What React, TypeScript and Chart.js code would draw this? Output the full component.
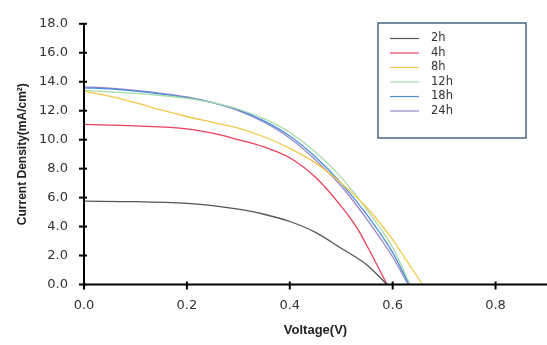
import React, { useEffect, useRef } from "react";
import { Chart, registerables } from "chart.js";

Chart.register(...registerables);

const seriesLabels = ["2h", "4h", "8h", "12h", "18h", "24h"];
const seriesColors = ["#555555", "#e8405a", "#f2c84b", "#a8dca8", "#4a8fdc", "#9a86c8"];

const v2h = [0, 0.1, 0.2, 0.25, 0.3, 0.35, 0.4, 0.45, 0.5, 0.55, 0.589];
const j2h = [5.75, 5.72, 5.6, 5.45, 5.2, 4.85, 4.35, 3.6, 2.5, 1.35, 0];

const v4h = [0, 0.1, 0.2, 0.25, 0.3, 0.35, 0.4, 0.45, 0.5, 0.53, 0.56, 0.589];
const j4h = [11.05, 10.95, 10.75, 10.45, 10.0, 9.5, 8.75, 7.4, 5.4, 3.95, 2.0, 0];

const v8h = [0, 0.05, 0.1, 0.15, 0.2, 0.25, 0.3, 0.35, 0.4, 0.45, 0.5, 0.55, 0.6, 0.63, 0.658];
const j8h = [13.35, 13.0, 12.55, 12.05, 11.6, 11.2, 10.8, 10.2, 9.4, 8.4, 7.0, 5.3, 3.1, 1.5, 0];

const v12h = [0, 0.05, 0.1, 0.15, 0.2, 0.25, 0.3, 0.35, 0.4, 0.45, 0.5, 0.55, 0.6, 0.634];
const j12h = [13.4, 13.3, 13.2, 13.05, 12.85, 12.55, 12.1, 11.45, 10.5, 9.15, 7.4, 5.15, 2.55, 0];

const v18h = [0, 0.05, 0.1, 0.15, 0.2, 0.25, 0.3, 0.35, 0.4, 0.45, 0.5, 0.55, 0.6, 0.632];
const j18h = [13.58, 13.5, 13.35, 13.15, 12.9, 12.55, 12.05, 11.3, 10.25, 8.8, 7.0, 4.8, 2.2, 0];

const v24h = [0, 0.05, 0.1, 0.15, 0.2, 0.25, 0.3, 0.35, 0.4, 0.45, 0.5, 0.55, 0.6, 0.63];
const j24h = [13.65, 13.55, 13.4, 13.2, 12.95, 12.55, 12.0, 11.2, 10.1, 8.6, 6.8, 4.5, 1.9, 0];

const voltages = [v2h, v4h, v8h, v12h, v18h, v24h];
const currents = [j2h, j4h, j8h, j12h, j18h, j24h];

const xTicks = [0, 0.2, 0.4, 0.6, 0.8];
const yTicks = [0, 2, 4, 6, 8, 10, 12, 14, 16, 18];

const xTitle = "Voltage(V)";
const yTitle = "Current Density(mA/cm²)";

const axesPlugin = {
  id: "customAxes",
  afterDatasetsDraw(chart: any) {
    const { ctx, chartArea, scales } = chart;
    const xs = scales.x;
    const ys = scales.y;
    ctx.save();
    ctx.strokeStyle = "#000";
    ctx.lineWidth = 2;
    ctx.beginPath();
    ctx.moveTo(chartArea.left, chartArea.top);
    ctx.lineTo(chartArea.left, chartArea.bottom);
    ctx.lineTo(chartArea.right, chartArea.bottom);
    ctx.stroke();
    yTicks.forEach((t) => {
      const y = ys.getPixelForValue(t);
      ctx.beginPath();
      ctx.moveTo(chartArea.left - 5, y);
      ctx.lineTo(chartArea.left + 3, y);
      ctx.stroke();
    });
    xTicks.forEach((t) => {
      const x = xs.getPixelForValue(t);
      ctx.beginPath();
      ctx.moveTo(x, chartArea.bottom - 3);
      ctx.lineTo(x, chartArea.bottom + 5);
      ctx.stroke();
    });
    ctx.restore();
  },
  afterDraw(chart: any) {
    const { ctx } = chart;
    ctx.save();
    const bx = 378, by = 23, bw = 148, bh = 115;
    ctx.fillStyle = "#fff";
    ctx.fillRect(bx, by, bw, bh);
    ctx.strokeStyle = "#4a6585";
    ctx.lineWidth = 1.5;
    ctx.strokeRect(bx, by, bw, bh);
    ctx.font = "11.5px 'DejaVu Sans'";
    ctx.textBaseline = "middle";
    ctx.textAlign = "left";
    seriesLabels.forEach((lab, i) => {
      const y = 38.5 + i * 14.5;
      ctx.strokeStyle = seriesColors[i];
      ctx.lineWidth = 1.2;
      ctx.beginPath();
      ctx.moveTo(390, y);
      ctx.lineTo(419, y);
      ctx.stroke();
      ctx.fillStyle = "#333";
      ctx.fillText(lab, 431, y);
    });
    ctx.restore();
  },
};

export default function App() {
  const ref = useRef<HTMLCanvasElement | null>(null);
  useEffect(() => {
    if (!ref.current) return;
    const datasets = seriesLabels.map((lab, i) => ({
      label: lab,
      data: voltages[i].map((v, k) => ({ x: v, y: currents[i][k] })),
      borderColor: seriesColors[i],
      backgroundColor: seriesColors[i],
      borderWidth: 1.3,
      pointRadius: 0,
      tension: 0.4,
      cubicInterpolationMode: "monotone" as const,
      fill: false,
    }));
    const chart = new Chart(ref.current, {
      type: "line",
      data: { datasets },
      plugins: [axesPlugin],
      options: {
        animation: false,
        responsive: false,
        maintainAspectRatio: false,
        layout: { padding: { top: 12, right: 0, left: 0, bottom: 0 } },
        plugins: { legend: { display: false }, tooltip: { enabled: false } },
        scales: {
          x: {
            type: "linear",
            min: 0,
            max: 0.9,
            grid: { display: false, drawTicks: false, tickLength: 0 },
            border: { display: false },
            afterBuildTicks: (s: any) => {
              s.ticks = xTicks.map((v) => ({ value: v }));
            },
            afterFit: (s: any) => {
              s.height = 345 - 284.5;
            },
            ticks: {
              padding: 13,
              color: "#333",
              font: { family: "'DejaVu Sans'", size: 13 },
              callback: (v: any) => Number(v).toFixed(1),
            },
            title: {
              display: true,
              text: xTitle,
              color: "#222",
              font: { family: "'Liberation Sans'", size: 13, weight: "bold" },
              padding: { top: 0, bottom: 7 },
            },
          },
          y: {
            type: "linear",
            min: 0,
            max: 18,
            grid: { display: false, drawTicks: false, tickLength: 0 },
            border: { display: false },
            afterBuildTicks: (s: any) => {
              s.ticks = yTicks.map((v) => ({ value: v }));
            },
            afterFit: (s: any) => {
              s.width = 84;
            },
            ticks: {
              padding: 16,
              color: "#333",
              font: { family: "'DejaVu Sans'", size: 13 },
              callback: (v: any) => Number(v).toFixed(1),
            },
            title: {
              display: true,
              text: yTitle,
              color: "#222",
              font: { family: "'Liberation Sans'", size: 12, weight: "bold" },
              padding: { top: 15, bottom: 0 },
            },
          },
        },
      },
    });
    return () => chart.destroy();
  }, []);
  return (
    <div style={{ position: "absolute", left: 0, top: 0, width: 547, height: 345, background: "#fff" }}>
      <canvas ref={ref} width={547} height={345} style={{ width: 547, height: 345 }} />
    </div>
  );
}
